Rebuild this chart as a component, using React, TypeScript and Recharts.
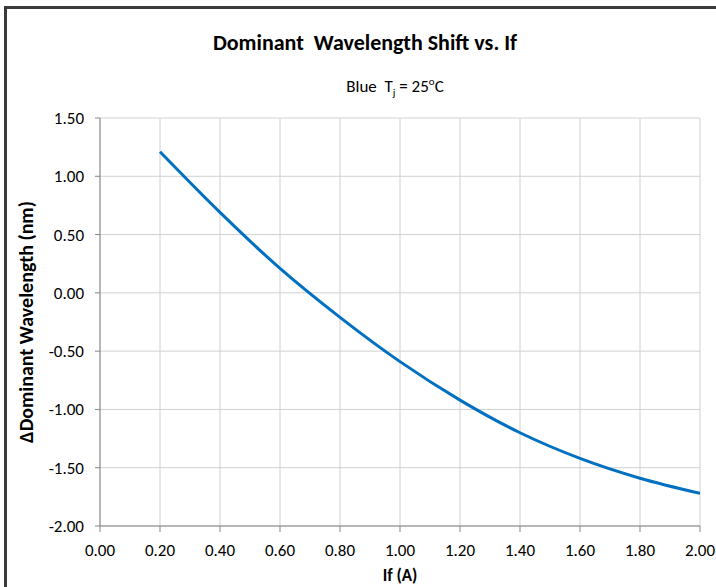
import React from "react";
import { LineChart, Line, XAxis, YAxis, CartesianGrid, Label } from "recharts";

const currents = [0.2, 0.4, 0.6, 0.8, 1.0, 1.2, 1.4, 1.6, 1.8, 2.0];
const shifts = [1.21, 0.69, 0.21, -0.21, -0.59, -0.92, -1.2, -1.42, -1.59, -1.72];
const xTicks = [0, 0.2, 0.4, 0.6, 0.8, 1.0, 1.2, 1.4, 1.6, 1.8, 2.0];
const yTicks = [-2, -1.5, -1, -0.5, 0, 0.5, 1, 1.5];

const data = currents.map((c, i) => ({ x: c, y: shifts[i] }));

const FONT = "'Liberation Sans Narrow', Carlito, 'Open Sans', sans-serif";

export default function App() {
  return (
    <div style={{ position: "fixed", left: 0, top: 0, width: 716, height: 587, overflow: "hidden", background: "#fff", fontFamily: FONT }}>
      <div style={{ position: "absolute", left: 4, top: 6, width: 900, height: 900, border: "3px solid #3a3a3a", boxSizing: "border-box" }} />
      <div style={{ position: "absolute", left: 0, width: 716, top: 29, textAlign: "center", paddingLeft: 14, boxSizing: "border-box", fontSize: 22, fontWeight: "bold", color: "#000", lineHeight: "28px" }}>
        Dominant&nbsp; Wavelength Shift vs. If
      </div>
      <div style={{ position: "absolute", left: 0, width: 716, top: 72, textAlign: "center", paddingLeft: 74, boxSizing: "border-box", fontSize: 17, color: "#000", lineHeight: "20px" }}>
        Blue&nbsp; T<sub style={{ fontSize: 11 }}>j</sub> = 25<sup style={{ fontSize: 11 }}>o</sup>C
      </div>
      <div style={{ position: "absolute", left: 0, top: 0 }}>
        <LineChart width={716} height={587} data={data} margin={{ top: 118, right: 16, bottom: 0, left: 0 }}>
          <CartesianGrid stroke="#d0d0d0" strokeWidth={1} />
          <XAxis
            dataKey="x"
            type="number"
            domain={[0, 2]}
            ticks={xTicks}
            tickFormatter={(v: number) => v.toFixed(2)}
            height={61}
            stroke="#868686"
            tickSize={6}
            tickMargin={12}
            tick={{ fill: "#000", fontSize: 17, fontFamily: FONT }}
            interval={0}
            allowDataOverflow
          >
            <Label value="If (A)" position="insideBottom" offset={6} style={{ fontSize: 17, fontWeight: "bold", fill: "#000", fontFamily: FONT }} />
          </XAxis>
          <YAxis
            type="number"
            domain={[-2, 1.5]}
            ticks={yTicks}
            tickFormatter={(v: number) => v.toFixed(2)}
            width={100}
            stroke="#868686"
            tickSize={5}
            tickMargin={11}
            tick={{ fill: "#000", fontSize: 17, fontFamily: FONT }}
            interval={0}
            allowDataOverflow
          >
            <Label value="ΔDominant Wavelength (nm)" angle={-90} position="insideLeft" offset={26} style={{ textAnchor: "middle", fontSize: 20, fontWeight: "bold", fill: "#000", fontFamily: FONT }} />
          </YAxis>
          <Line type="monotone" dataKey="y" stroke="#0070c0" strokeWidth={3} dot={false} isAnimationActive={false} />
        </LineChart>
      </div>
    </div>
  );
}
